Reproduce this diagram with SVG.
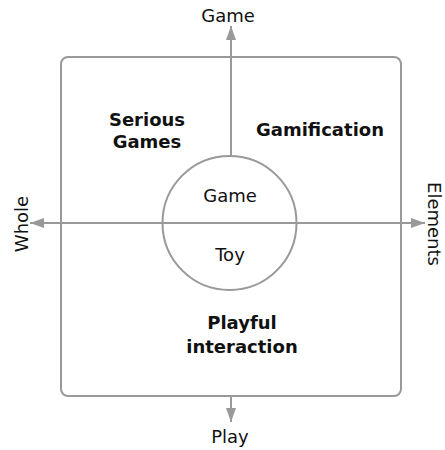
<svg xmlns="http://www.w3.org/2000/svg" width="445" height="450" viewBox="0 0 445 450">
<style>
.ln{stroke:#999;stroke-width:2;fill:none}
.t{font-family:"DejaVu Sans",Verdana,sans-serif;font-size:18px;fill:#111;text-anchor:middle}
.b{font-weight:bold}
</style>
<defs>
<marker id="ah2" viewBox="0 0 14 10" refX="14" refY="5" markerWidth="14" markerHeight="10" markerUnits="userSpaceOnUse" orient="auto">
<path d="M0,0 L14,5 L0,10 z" fill="#999"/>
</marker>
</defs>
<rect id="frame" x="61" y="57" width="340" height="339" rx="7" class="ln"/>
<g id="connectors">
<line x1="231" y1="156" x2="231" y2="26" class="ln" marker-end="url(#ah2)"/>
<line x1="231" y1="396" x2="231" y2="422" class="ln" marker-end="url(#ah2)"/>
<line x1="231" y1="223" x2="30" y2="223" class="ln" marker-end="url(#ah2)"/>
<line x1="231" y1="223" x2="425" y2="223" class="ln" marker-end="url(#ah2)"/>
</g>
<g id="circle">
<circle cx="229.5" cy="223" r="67" fill="none" stroke="#999" stroke-width="2"/>
<text class="t" x="230" y="202">Game</text>
<text class="t" x="230" y="261">Toy</text>
</g>
<g id="axis-labels">
<text class="t" x="228" y="22">Game</text>
<text class="t" x="230" y="443">Play</text>
<text class="t" transform="translate(28,224) rotate(-90)">Whole</text>
<text class="t" transform="translate(428,224) rotate(90)">Elements</text>
</g>
<g id="quadrants">
<text class="t b" x="147" y="126">Serious</text>
<text class="t b" x="147" y="148">Games</text>
<text class="t b" x="320" y="136">Gamification</text>
<text class="t b" x="242" y="329">Playful</text>
<text class="t b" x="242" y="353">interaction</text>
</g>
</svg>
